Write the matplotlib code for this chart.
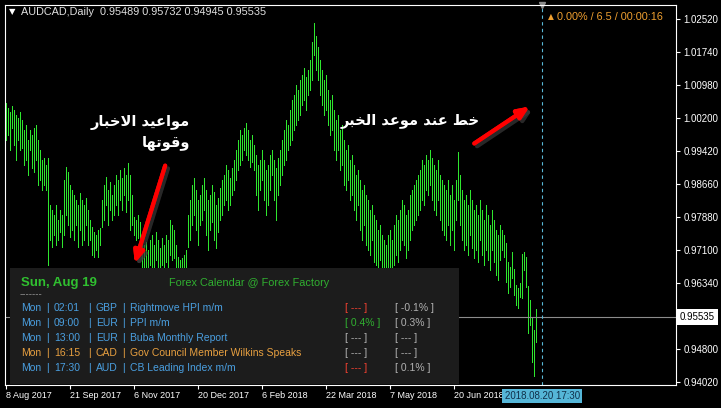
import matplotlib.pyplot as plt
import matplotlib.patheffects as pe
from matplotlib.patches import Rectangle

plt.rcParams['font.family'] = ['Liberation Sans', 'DejaVu Sans']

W, H = 721, 408

# AUDCAD daily bars (high / low), first bar 8 Aug 2017
highs = [
    1.0055, 1.0044, 1.0034, 1.0048, 1.0039, 1.0027, 1.0020, 1.0034, 1.0015, 0.9992,
    1.0004, 0.9969, 0.9992, 0.9980, 0.9997, 1.0004, 0.9969, 0.9945, 0.9922, 0.9926,
    0.9910, 0.9926, 0.9816, 0.9805, 0.9793, 0.9816, 0.9781, 0.9805, 0.9793, 0.9875,
    0.9905, 0.9894, 0.9863, 0.9852, 0.9840, 0.9828, 0.9816, 0.9845, 0.9828, 0.9816,
    0.9833, 0.9805, 0.9781, 0.9765, 0.9753, 0.9746, 0.9758, 0.9763, 0.9828, 0.9863,
    0.9882, 0.9852, 0.9870, 0.9840, 0.9863, 0.9887, 0.9875, 0.9898, 0.9880, 0.9903,
    0.9887, 0.9915, 0.9887, 0.9840, 0.9788, 0.9781, 0.9793, 0.9777, 0.9734, 0.9723,
    0.9730, 0.9711, 0.9734, 0.9746, 0.9723, 0.9753, 0.9734, 0.9716, 0.9739, 0.9723,
    0.9746, 0.9734, 0.9781, 0.9770, 0.9758, 0.9723, 0.9695, 0.9688, 0.9692, 0.9699,
    0.9711, 0.9793, 0.9828, 0.9863, 0.9880, 0.9852, 0.9828, 0.9840, 0.9863, 0.9880,
    0.9852, 0.9828, 0.9840, 0.9863, 0.9847, 0.9816, 0.9833, 0.9856, 0.9875, 0.9887,
    0.9910, 0.9898, 0.9880, 0.9903, 0.9922, 0.9945, 0.9969, 0.9992, 0.9980, 0.9997,
    1.0008, 0.9992, 0.9969, 0.9980, 0.9957, 0.9934, 0.9910, 0.9922, 0.9945, 0.9922,
    0.9898, 0.9910, 0.9934, 0.9945, 0.9922, 0.9903, 0.9926, 0.9945, 0.9969, 0.9992,
    1.0015, 1.0004, 1.0039, 1.0062, 1.0074, 1.0097, 1.0086, 1.0109, 1.0121, 1.0137,
    1.0116, 1.0133, 1.0156, 1.0198, 1.0243, 1.0212, 1.0186, 1.0156, 1.0133, 1.0109,
    1.0121, 1.0086, 1.0062, 1.0074, 1.0039, 1.0015, 1.0027, 0.9992, 1.0004, 0.9969,
    0.9945, 0.9957, 0.9922, 0.9934, 0.9910, 0.9887, 0.9898, 0.9875, 0.9852, 0.9863,
    0.9840, 0.9828, 0.9805, 0.9816, 0.9793, 0.9781, 0.9758, 0.9770, 0.9746, 0.9734,
    0.9723, 0.9746, 0.9758, 0.9734, 0.9770, 0.9793, 0.9781, 0.9805, 0.9828, 0.9816,
    0.9793, 0.9805, 0.9840, 0.9852, 0.9863, 0.9875, 0.9887, 0.9898, 0.9922, 0.9910,
    0.9934, 0.9922, 0.9945, 0.9926, 0.9910, 0.9898, 0.9922, 0.9887, 0.9875, 0.9863,
    0.9852, 0.9875, 0.9840, 0.9863, 0.9828, 0.9875, 0.9940, 0.9887, 0.9852, 0.9828,
    0.9840, 0.9816, 0.9852, 0.9828, 0.9805, 0.9816, 0.9793, 0.9828, 0.9805, 0.9781,
    0.9816, 0.9793, 0.9770, 0.9805, 0.9781, 0.9758, 0.9746, 0.9770, 0.9758, 0.9746,
    0.9727, 0.9683, 0.9671, 0.9706, 0.9667, 0.9629, 0.9622, 0.9634, 0.9702, 0.9706,
    0.9695, 0.9627, 0.9594, 0.9552, 0.9524, 0.95732,
]
lows = [
    0.9969, 0.9980, 0.9945, 0.9997, 0.9957, 0.9922, 0.9969, 0.9945, 0.9950, 0.9910,
    0.9922, 0.9887, 0.9945, 0.9903, 0.9894, 0.9922, 0.9863, 0.9875, 0.9852, 0.9863,
    0.9852, 0.9676, 0.9734, 0.9718, 0.9746, 0.9723, 0.9734, 0.9753, 0.9718, 0.9746,
    0.9793, 0.9770, 0.9741, 0.9758, 0.9734, 0.9770, 0.9718, 0.9758, 0.9723, 0.9734,
    0.9770, 0.9723, 0.9734, 0.9699, 0.9695, 0.9711, 0.9695, 0.9723, 0.9765, 0.9781,
    0.9816, 0.9770, 0.9805, 0.9781, 0.9793, 0.9816, 0.9793, 0.9828, 0.9805, 0.9840,
    0.9800, 0.9828, 0.9758, 0.9770, 0.9746, 0.9734, 0.9739, 0.9734, 0.9664, 0.9652,
    0.9641, 0.9629, 0.9676, 0.9660, 0.9645, 0.9688, 0.9664, 0.9636, 0.9676, 0.9652,
    0.9683, 0.9664, 0.9699, 0.9688, 0.9692, 0.9664, 0.9641, 0.9629, 0.9636, 0.9652,
    0.9664, 0.9718, 0.9734, 0.9770, 0.9793, 0.9758, 0.9723, 0.9770, 0.9781, 0.9805,
    0.9746, 0.9711, 0.9758, 0.9777, 0.9734, 0.9716, 0.9753, 0.9781, 0.9793, 0.9816,
    0.9828, 0.9805, 0.9816, 0.9840, 0.9852, 0.9875, 0.9898, 0.9910, 0.9922, 0.9945,
    0.9934, 0.9922, 0.9905, 0.9917, 0.9898, 0.9840, 0.9805, 0.9852, 0.9875, 0.9828,
    0.9793, 0.9816, 0.9852, 0.9887, 0.9828, 0.9781, 0.9840, 0.9863, 0.9887, 0.9910,
    0.9922, 0.9945, 0.9957, 0.9969, 0.9992, 1.0004, 1.0015, 1.0027, 1.0051, 1.0062,
    1.0039, 1.0074, 1.0086, 1.0109, 1.0168, 1.0133, 1.0109, 1.0074, 1.0051, 1.0027,
    1.0039, 1.0004, 0.9980, 0.9992, 0.9945, 0.9922, 0.9945, 0.9898, 0.9910, 0.9863,
    0.9852, 0.9875, 0.9828, 0.9840, 0.9805, 0.9781, 0.9816, 0.9758, 0.9734, 0.9770,
    0.9723, 0.9711, 0.9699, 0.9734, 0.9683, 0.9676, 0.9652, 0.9688, 0.9641, 0.9629,
    0.9617, 0.9652, 0.9664, 0.9641, 0.9676, 0.9699, 0.9683, 0.9711, 0.9734, 0.9723,
    0.9692, 0.9711, 0.9734, 0.9758, 0.9770, 0.9781, 0.9793, 0.9805, 0.9828, 0.9816,
    0.9852, 0.9840, 0.9863, 0.9828, 0.9805, 0.9793, 0.9828, 0.9781, 0.9758, 0.9746,
    0.9734, 0.9770, 0.9723, 0.9758, 0.9711, 0.9781, 0.9828, 0.9770, 0.9734, 0.9711,
    0.9723, 0.9699, 0.9746, 0.9716, 0.9692, 0.9711, 0.9683, 0.9734, 0.9699, 0.9676,
    0.9711, 0.9688, 0.9664, 0.9711, 0.9683, 0.9652, 0.9641, 0.9688, 0.9711, 0.9695,
    0.9636, 0.9610, 0.9624, 0.9645, 0.9606, 0.9582, 0.9575, 0.9601, 0.9599, 0.9664,
    0.9624, 0.9517, 0.9535, 0.9449, 0.9416, 0.94945,
]

price_ticks = [1.02520, 1.01740, 1.00980, 1.00200, 0.99420, 0.98660,
               0.97880, 0.97100, 0.96340, 0.94800, 0.94020]
date_ticks = [0, 32, 64, 96, 128, 160, 192, 224]
date_labels = ['8 Aug 2017', '21 Sep 2017', '6 Nov 2017', '20 Dec 2017',
               '6 Feb 2018', '22 Mar 2018', '7 May 2018', '20 Jun 2018']

symbol = 'AUDCAD,Daily'
last_ohlc = [0.95489, 0.95732, 0.94945, 0.95535]
bid = 0.95535
news_bar = 268
news_time = '2018.08.20 17:30'
spread_info = '0.00% / 6.5 / 00:00:16'

# Forex Factory calendar panel
cal_date = 'Sun, Aug 19'
cal_header = 'Forex Calendar @ Forex Factory'
cal_days = ['Mon', 'Mon', 'Mon', 'Mon', 'Mon']
cal_times = ['02:01', '09:00', '13:00', '16:15', '17:30']
cal_ccy = ['GBP', 'EUR', 'EUR', 'CAD', 'AUD']
cal_titles = ['Rightmove HPI m/m', 'PPI m/m', 'Buba Monthly Report',
              'Gov Council Member Wilkins Speaks', 'CB Leading Index m/m']
cal_forecast = ['[ --- ]', '[ 0.4% ]', '[ --- ]', '[ --- ]', '[ --- ]']
cal_previous = ['[ -0.1% ]', '[ 0.3% ]', '[ --- ]', '[ --- ]', '[ 0.1% ]']
row_colors = ['#4a9fe0', '#4a9fe0', '#4a9fe0', '#e8a040', '#4a9fe0']
fc_colors = ['#f04030', '#30b030', '#b0b0b0', '#b0b0b0', '#f04030']

# arabic notes (presentation forms, visual order)
note_left_1 = '\ufead\ufe8e\ufe92\ufea7\ufefb\ufe8d \ufeaa\ufef4\ufecb\ufe8d\ufeee\ufee3'   # مواعيد الاخبار
note_left_2 = '\ufe8e\ufeec\ufe97\ufeee\ufed7\ufeed'                                      # وقوتها
note_right = ('\ufeae\ufe92\ufea8\ufedf\ufe8d \ufeaa\ufecb\ufeee\ufee3 '
              '\ufeaa\ufee8\ufecb \ufec2\ufea7')                                          # خط عند موعد الخبر


def fp(x, y):
    # image pixel -> figure fraction
    return x / W, 1 - y / H


fig = plt.figure(figsize=(W / 100, H / 100), dpi=100, facecolor='black')
ax = fig.add_axes([5 / W, 23 / H, 671 / W, 380 / H])
ax.set_facecolor('black')

idx = list(range(len(highs)))
ax.vlines(idx, lows, highs, colors='#2ee62e', linewidth=0.5, antialiased=False)

ax.set_xlim(-0.25, 334.75)
ax.set_ylim(0.93948, 1.02848)

for s in ax.spines.values():
    s.set_color('white')
    s.set_linewidth(0.8)

ax.yaxis.tick_right()
ax.set_yticks(price_ticks)
ax.set_yticklabels([f'{p:.5f}' for p in price_ticks])
ax.set_xticks(date_ticks)
ax.set_xticklabels(date_labels, ha='left')
ax.tick_params(colors='white', direction='out', length=3, width=0.8, labelsize=7)
ax.tick_params(axis='x', labelsize=6.5, pad=1.5)
ax.tick_params(axis='y', pad=2.5)

# bid line and label
ax.axhline(bid, color='#8c8c8c', linewidth=0.8)
ax.annotate(f'{bid:.5f}', xy=(1, bid), xycoords=('axes fraction', 'data'),
            xytext=(4, 0), textcoords='offset pixels', ha='left', va='center',
            fontsize=7, color='black',
            bbox=dict(boxstyle='square,pad=0.3', facecolor='white', edgecolor='none'),
            annotation_clip=False)

# news time line
ax.axvline(news_bar, color='#5ab8d6', linewidth=0.8, linestyle=(0, (3, 3)))
ax.plot([news_bar], [1.02848], marker='v', color='#8c8c8c', markersize=5, clip_on=False)
ax.annotate(news_time, xy=(news_bar, 0), xycoords=('data', 'axes fraction'),
            xytext=(0, -11), textcoords='offset pixels', ha='center', va='center',
            fontsize=7, color='#10304a', zorder=5,
            bbox=dict(boxstyle='square,pad=0.25', facecolor='#55b6d8', edgecolor='none'),
            annotation_clip=False)

# header
fig.text(*fp(9, 12), '\u25bc', color='white', fontsize=6, va='center', family='DejaVu Sans')
fig.text(*fp(21, 12), symbol + '  ' + ' '.join(f'{v:.5f}' for v in last_ohlc),
         color='#e0e0e0', fontsize=7.8, va='center')
fig.text(*fp(548, 17), '\u25b2', color='#f0a030', fontsize=5.5, va='center', family='DejaVu Sans')
fig.text(*fp(557, 17), spread_info, color='#f0a030', fontsize=7.8, va='center')

# calendar panel
px, py = fp(10, 384)
fig.add_artist(Rectangle((px, py), 449 / W, 116 / H, transform=fig.transFigure,
                         facecolor='#1c1c1c', edgecolor='none', zorder=2))
fig.text(*fp(21, 283), cal_date, color='#30c030', fontsize=9.5, weight='bold', va='center')
fig.text(*fp(249, 283), cal_header, color='#30b030', fontsize=7.8, va='center', ha='center')
fig.text(*fp(20, 294), '-------', color='#909090', fontsize=7, va='center')
row_y = [308, 323, 338, 353, 368]
fs = 7.5
for k in range(len(cal_days)):
    c = row_colors[k]
    y = row_y[k]
    fig.text(*fp(21, y), cal_days[k], color=c, fontsize=fs, va='center')
    fig.text(*fp(46, y), '|', color=c, fontsize=fs, va='center')
    fig.text(*fp(54, y), cal_times[k], color=c, fontsize=fs, va='center')
    fig.text(*fp(88, y), '|', color=c, fontsize=fs, va='center')
    fig.text(*fp(96, y), cal_ccy[k], color=c, fontsize=fs, va='center')
    fig.text(*fp(122, y), '|', color=c, fontsize=fs, va='center')
    fig.text(*fp(130, y), cal_titles[k], color=c, fontsize=fs, va='center')
    fig.text(*fp(345, y), cal_forecast[k], color=fc_colors[k], fontsize=fs, va='center')
    fig.text(*fp(395, y), cal_previous[k], color='#b0b0b0', fontsize=fs, va='center')

# notes and arrows
shadow = [pe.SimpleLineShadow(offset=(2, -2), shadow_color='#3a3a3a', alpha=0.45), pe.Normal()]
fig.text(*fp(190, 122), note_left_1, color='white', fontsize=10.5, weight='bold',
         ha='right', va='center', family='DejaVu Sans')
fig.text(*fp(190, 143), note_left_2, color='white', fontsize=10.5, weight='bold',
         ha='right', va='center', family='DejaVu Sans')
fig.text(*fp(480, 120), note_right, color='white', fontsize=10.5, weight='bold',
         ha='right', va='center', family='DejaVu Sans')

for tail, head in [((166, 163), (134, 266)), ((472, 145), (532, 105))]:
    fig.add_artist(plt.annotate('', xy=fp(*head), xytext=fp(*tail),
                                xycoords='figure fraction', textcoords='figure fraction',
                                arrowprops=dict(arrowstyle='-|>,head_length=0.7,head_width=0.3',
                                                color='#ff0000', lw=3, path_effects=shadow)))

fig.savefig('out.png', dpi=100, facecolor='black')
